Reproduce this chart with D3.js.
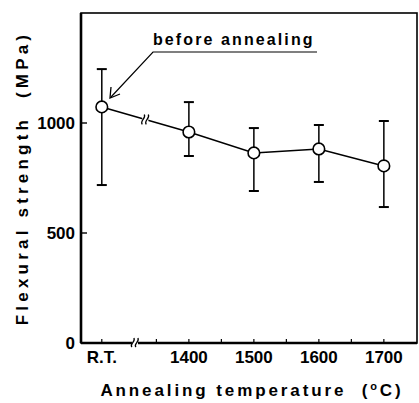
<!DOCTYPE html>
<html lang="en">
<head>
  <meta charset="UTF-8">
  <title>Flexural strength vs annealing temperature</title>
  <script src="https://d3js.org/d3.v7.min.js"></script>
  <style>
    body { margin: 0; background: #fff; }
    svg { display: block; }
    text { white-space: pre; }
    .tick-label { font-family: "Liberation Sans Narrow", "Liberation Sans", Arial, sans-serif; font-weight: bold; font-size: 17px; }
    .axis-label { font-family: "Liberation Sans", Arial, sans-serif; font-weight: bold; font-size: 16px; }
  </style>
</head>
<body>
  <script>
    // data
    const temps = ["R.T.", 1400, 1500, 1600, 1700];
    const xPos = [1266, 1400, 1500, 1600, 1700];   // R.T. drawn left of the axis break
    const strength = [1073, 959, 864, 882, 805];
    const errHigh = [1245, 1095, 977, 991, 1009];
    const errLow = [718, 850, 691, 732, 618];
    const yTicks = [0, 500, 1000];
    const xMinorTicks = [1266, 1350, 1400, 1450, 1500, 1550, 1600, 1650, 1700];

    const width = 419, height = 403;
    const margin = { left: 81, right: 2, top: 13, bottom: 60 };

    const svg = d3.select("body").append("svg")
      .attr("width", width)
      .attr("height", height);

    const x = d3.scaleLinear().domain([1234, 1751]).range([margin.left, width - margin.right]);
    const y = d3.scaleLinear().domain([0, 1500]).range([height - margin.bottom, margin.top]);

    const x0 = x.range()[0], x1 = x.range()[1];
    const yb = y(0), yt = y(1500);

    // frame
    svg.append("rect")
      .attr("x", x0).attr("y", yt)
      .attr("width", x1 - x0).attr("height", yb - yt)
      .attr("fill", "none").attr("stroke", "#000").attr("stroke-width", 1.6);
    svg.append("line").attr("x1", x0).attr("x2", x0).attr("y1", yt).attr("y2", yb)
      .attr("stroke", "#000").attr("stroke-width", 2.6);
    svg.append("line").attr("x1", x0).attr("x2", x1).attr("y1", yb).attr("y2", yb)
      .attr("stroke", "#000").attr("stroke-width", 2.6);

    // y ticks (inward) and labels
    svg.selectAll(".ytick").data(yTicks.filter(d => d > 0)).enter().append("line")
      .attr("x1", x0).attr("x2", x0 + 6)
      .attr("y1", d => y(d)).attr("y2", d => y(d))
      .attr("stroke", "#000").attr("stroke-width", 1.4);
    svg.selectAll(".ylab").data(yTicks).enter().append("text")
      .attr("class", "tick-label")
      .attr("x", x0 - 6).attr("y", d => y(d) + 6)
      .attr("text-anchor", "end")
      .text(d => d);

    // x minor ticks (inward)
    svg.selectAll(".xtick").data(xMinorTicks).enter().append("line")
      .attr("x1", d => x(d)).attr("x2", d => x(d))
      .attr("y1", yb).attr("y2", yb - 4)
      .attr("stroke", "#000").attr("stroke-width", 1.2);

    // x labels
    svg.selectAll(".xlab").data(temps).enter().append("text")
      .attr("class", "tick-label")
      .attr("x", (d, i) => x(xPos[i]))
      .attr("y", yb + 20)
      .attr("text-anchor", "middle")
      .text(d => d);

    // axis break on bottom axis
    const bx = x(1317);
    svg.append("rect").attr("x", bx - 3).attr("y", yb - 3).attr("width", 6).attr("height", 6).attr("fill", "#fff");
    [-2, 2].forEach(o => {
      svg.append("path")
        .attr("d", `M${bx + o - 1},${yb + 4} C${bx + o - 4},${yb + 1} ${bx + o + 3},${yb - 1} ${bx + o + 1},${yb - 5}`)
        .attr("fill", "none").attr("stroke", "#000").attr("stroke-width", 1.3);
    });

    // data line
    const pts = xPos.map((d, i) => [x(d), y(strength[i])]);
    svg.append("path")
      .attr("d", d3.line()(pts))
      .attr("fill", "none").attr("stroke", "#000").attr("stroke-width", 1.5);

    // break symbol on the data line
    const lbx = x(1333);
    const lby = y(strength[0] + (strength[1] - strength[0]) * (1333 - xPos[0]) / (xPos[1] - xPos[0]));
    svg.append("rect").attr("x", lbx - 3).attr("y", lby - 4).attr("width", 6).attr("height", 8).attr("fill", "#fff");
    [-2, 2].forEach(o => {
      svg.append("path")
        .attr("d", `M${lbx + o - 1},${lby + 5} C${lbx + o - 4},${lby + 1} ${lbx + o + 3},${lby - 1} ${lbx + o + 1},${lby - 5}`)
        .attr("fill", "none").attr("stroke", "#000").attr("stroke-width", 1.3);
    });

    // error bars
    const eb = svg.append("g").attr("stroke", "#000").attr("stroke-width", 1.5);
    xPos.forEach((d, i) => {
      const cx = x(d);
      eb.append("line").attr("x1", cx).attr("x2", cx).attr("y1", y(errHigh[i])).attr("y2", y(errLow[i]));
      [errHigh[i], errLow[i]].forEach(v => {
        eb.append("line").attr("x1", cx - 5).attr("x2", cx + 5).attr("y1", y(v)).attr("y2", y(v)).attr("stroke-width", 2);
      });
    });

    // markers
    svg.selectAll(".pt").data(pts).enter().append("circle")
      .attr("cx", d => d[0]).attr("cy", d => d[1]).attr("r", 5.8)
      .attr("fill", "#fff").attr("stroke", "#000").attr("stroke-width", 1.6);

    // annotation
    svg.append("text")
      .attr("class", "axis-label")
      .attr("x", 153).attr("y", 45)
      .attr("letter-spacing", 2.1)
      .text("before annealing");
    svg.append("path")
      .attr("d", "M317,52 L153,52 L111,97")
      .attr("fill", "none").attr("stroke", "#000").attr("stroke-width", 1.2);
    svg.append("path")
      .attr("d", "M111,87 L110,98 L120,94")
      .attr("fill", "none").attr("stroke", "#000").attr("stroke-width", 1.3);

    // axis titles
    svg.append("text")
      .attr("class", "axis-label")
      .attr("transform", `translate(28,178) rotate(-90)`)
      .attr("text-anchor", "middle")
      .attr("letter-spacing", 4.2)
      .style("font-size", "17px")
      .text("Flexural strength  (MPa)");
    svg.append("text")
      .attr("class", "axis-label")
      .attr("x", 252).attr("y", 396)
      .attr("text-anchor", "middle")
      .attr("letter-spacing", 2.9)
      .style("font-size", "17px")
      .html("Annealing temperature  (<tspan dy='-6' font-size='11'>o</tspan><tspan dy='6'>C)</tspan>");
  </script>
</body>
</html>
